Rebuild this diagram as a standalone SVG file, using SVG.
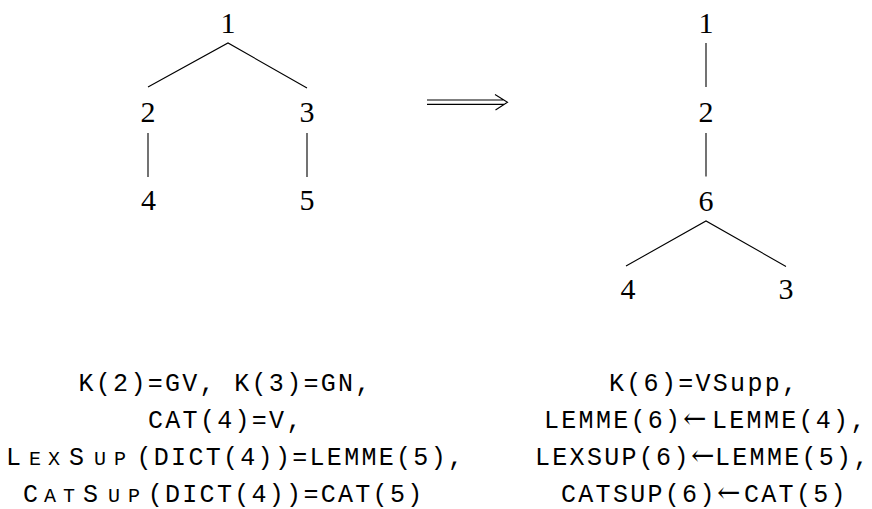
<svg xmlns="http://www.w3.org/2000/svg" width="872" height="509" viewBox="0 0 872 509">
<style>
.d{font-family:"Liberation Serif","Times New Roman",serif;font-size:30px;fill:#000;text-anchor:middle}
.e{stroke:#000;stroke-width:1.1;fill:none}
.t{font-family:"Liberation Mono","Courier New",monospace;font-size:25px;letter-spacing:2.3px;fill:#000}
.sc{font-size:20px;letter-spacing:0}
.z{letter-spacing:0}
.ar{font-family:"DejaVu Serif","Liberation Serif",serif;font-size:28px;letter-spacing:0}
</style>
<rect width="872" height="509" fill="#fff"/>
<g id="connectors">
<path class="e" d="M148,87 L228,43 L307,88"/>
<path class="e" d="M148,133 V177 M307,133 V177"/>
<path class="e" d="M706,43 V87 M706,133 V176.5"/>
<path class="e" d="M626,266 L706,221 L786,266.5"/>
<path class="e" d="M427,100 H504 M427,104.4 H504 M495,94.5 L507.5,102.2 L495.5,110"/>
</g>
<g id="left-tree">
<g id="L1"><text class="d" x="228" y="32.5">1</text></g>
<g id="L2"><text class="d" x="148" y="122">2</text></g>
<g id="L3"><text class="d" x="307" y="122">3</text></g>
<g id="L4"><text class="d" x="148.5" y="210">4</text></g>
<g id="L5"><text class="d" x="307" y="210">5</text></g>
</g>
<g id="right-tree">
<g id="R1"><text class="d" x="706" y="32.5">1</text></g>
<g id="R2"><text class="d" x="706" y="122">2</text></g>
<g id="R6"><text class="d" x="706" y="210.5">6</text></g>
<g id="R4"><text class="d" x="628" y="299">4</text></g>
<g id="R3"><text class="d" x="786" y="299">3</text></g>
</g>
<g id="left-text">
<text class="t" x="78.5" y="391">K(2)=GV, K(3)=GN,</text>
<text class="t" x="148" y="428">CAT(4)=V,</text>
<text class="t" y="465"><tspan x="6">L</tspan><tspan class="sc" x="29">E</tspan><tspan class="sc" x="48">X</tspan><tspan x="69">S</tspan><tspan class="sc" x="94">U</tspan><tspan class="sc" x="114">P</tspan><tspan x="136.5">(DICT(4))=LEMME(5)</tspan><tspan class="z">,</tspan></text>
<text class="t" y="502"><tspan x="23">C</tspan><tspan class="sc" x="44">A</tspan><tspan class="sc" x="63">T</tspan><tspan x="83">S</tspan><tspan class="sc" x="108">U</tspan><tspan class="sc" x="128">P</tspan><tspan x="147.7">(DICT(4))=CAT(5)</tspan></text>
</g>
<g id="right-text">
<text class="t" x="609" y="391">K(6)=VSupp,</text>
<text class="t" y="428"><tspan x="544">LEMME(6)</tspan><tspan class="ar" x="683">←</tspan><tspan x="712">LEMME(4)</tspan><tspan class="z">,</tspan></text>
<text class="t" y="465"><tspan x="535">LEXSUP(6)</tspan><tspan class="ar" x="691">←</tspan><tspan x="715">LEMME(5)</tspan><tspan class="z">,</tspan></text>
<text class="t" y="502"><tspan x="561">CATSUP(6)</tspan><tspan class="ar" x="717">←</tspan><tspan x="744">CAT(5)</tspan></text>
</g>
</svg>
